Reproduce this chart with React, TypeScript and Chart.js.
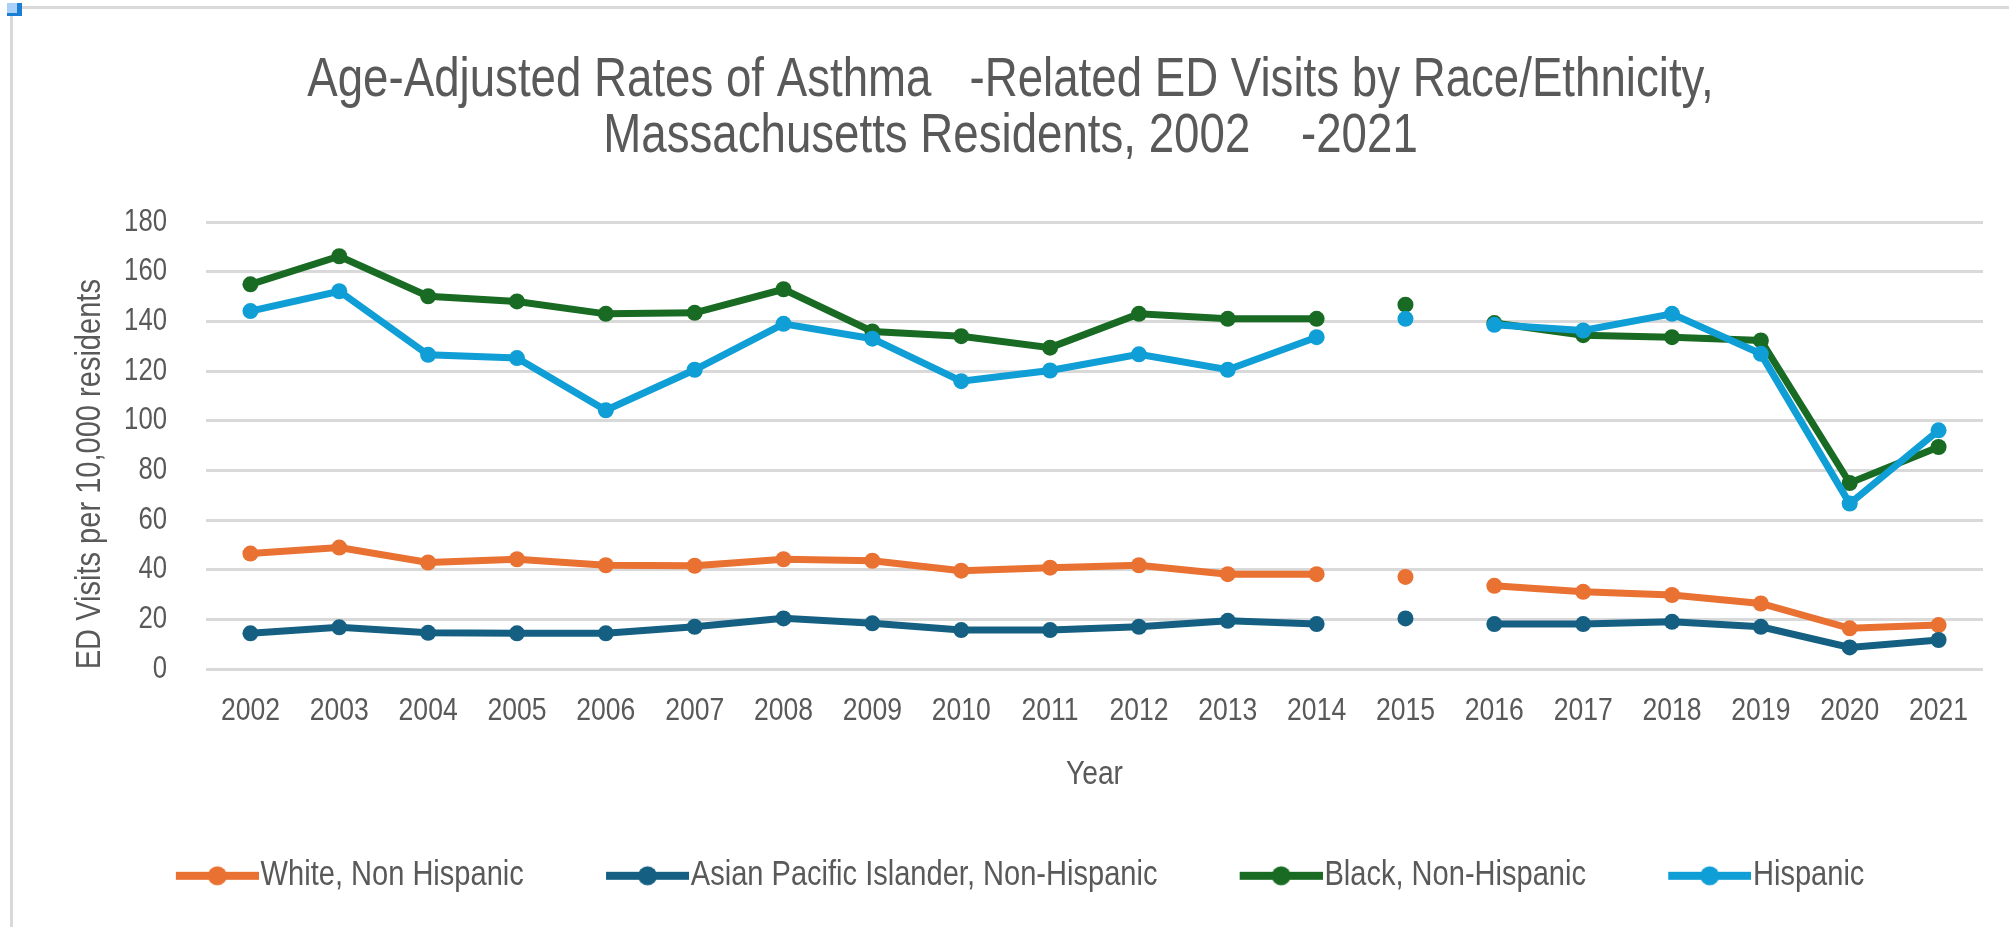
import React, { useEffect, useRef } from "react";
import { Chart, registerables } from "chart.js";

Chart.register(...registerables);

const years = ["2002","2003","2004","2005","2006","2007","2008","2009","2010","2011","2012","2013","2014","2015","2016","2017","2018","2019","2020","2021"];
const isolatedYears = ["2015"];

const whiteNH = [46.6, 49.0, 43.0, 44.3, 41.9, 41.7, 44.3, 43.7, 39.7, 40.9, 41.9, 38.3, 38.3, 37.2, 33.6, 31.2, 29.9, 26.5, 16.5, 17.8];
const asianNH = [14.5, 16.9, 14.7, 14.5, 14.5, 17.1, 20.5, 18.5, 15.8, 15.8, 17.1, 19.5, 18.2, 20.5, 18.2, 18.2, 19.1, 17.1, 8.8, 11.8];
const blackNH = [155.0, 166.3, 150.2, 148.1, 143.1, 143.5, 153.0, 136.0, 134.1, 129.5, 143.1, 141.1, 141.1, 146.8, 139.4, 134.5, 133.7, 132.4, 75.0, 89.5];
const hispanic = [144.2, 152.2, 126.6, 125.3, 104.3, 120.6, 139.1, 133.1, 116.0, 120.3, 126.8, 120.6, 133.7, 141.1, 138.7, 136.4, 143.1, 127.0, 66.7, 96.2];

const seriesNames = ["White, Non Hispanic", "Asian Pacific Islander, Non-Hispanic", "Black, Non-Hispanic", "Hispanic"];
const seriesColors = ["#E97132", "#156082", "#196B24", "#0F9ED5"];
const seriesValues = [whiteNH, asianNH, blackNH, hispanic];
const drawOrder = [4, 3, 2, 1];

const titleLines = ["Age-Adjusted Rates of Asthma   -Related ED Visits by Race/Ethnicity,", "Massachusetts Residents, 2002    -2021"];
const yTitle = "ED Visits per 10,000 residents";
const xTitle = "Year";

const FONT = "'Liberation Sans', Arial, sans-serif";
const TEXT = "#595959";
const GRID = "#d9d9d9";
const TEXT_SCALE_X = 0.83;

function legendMarker(color: string): HTMLCanvasElement {
  const c = document.createElement("canvas");
  c.width = 118;
  c.height = 22;
  const ctx = c.getContext("2d")!;
  ctx.strokeStyle = color;
  ctx.lineWidth = 8;
  ctx.beginPath();
  ctx.moveTo(35, 11);
  ctx.lineTo(118, 11);
  ctx.stroke();
  ctx.fillStyle = color;
  ctx.beginPath();
  ctx.arc(76.5, 11, 9.5, 0, Math.PI * 2);
  ctx.fill();
  return c;
}

function condenseText(ctx: any) {
  const origFill = ctx.fillText.bind(ctx);
  const origMeasure = ctx.measureText.bind(ctx);
  ctx.measureText = (t: string) => {
    const m = origMeasure(t);
    return {
      width: m.width * TEXT_SCALE_X,
      actualBoundingBoxAscent: m.actualBoundingBoxAscent,
      actualBoundingBoxDescent: m.actualBoundingBoxDescent,
      actualBoundingBoxLeft: m.actualBoundingBoxLeft * TEXT_SCALE_X,
      actualBoundingBoxRight: m.actualBoundingBoxRight * TEXT_SCALE_X,
      fontBoundingBoxAscent: m.fontBoundingBoxAscent,
      fontBoundingBoxDescent: m.fontBoundingBoxDescent,
    };
  };
  ctx.fillText = (t: string, x: number, y: number, maxWidth?: number) => {
    ctx.save();
    ctx.translate(x, y);
    ctx.scale(TEXT_SCALE_X, 1);
    if (maxWidth !== undefined) origFill(t, 0, 0, maxWidth / TEXT_SCALE_X);
    else origFill(t, 0, 0);
    ctx.restore();
  };
}

export default function App() {
  const ref = useRef<HTMLCanvasElement | null>(null);

  useEffect(() => {
    if (!ref.current) return;
    const context = ref.current.getContext("2d");
    condenseText(context);
    const markers = seriesColors.map(legendMarker);
    const hidden = (ctx: any) => {
      const a = years[ctx.p0DataIndex];
      const b = years[ctx.p1DataIndex];
      return isolatedYears.includes(a) || isolatedYears.includes(b) ? "rgba(0,0,0,0)" : undefined;
    };
    const chart = new Chart(ref.current, {
      type: "line",
      data: {
        labels: years,
        datasets: seriesNames.map((name, i) => ({
          label: name,
          data: seriesValues[i],
          borderColor: seriesColors[i],
          backgroundColor: seriesColors[i],
          pointBackgroundColor: seriesColors[i],
          pointBorderColor: seriesColors[i],
          pointBorderWidth: 0,
          pointRadius: 8,
          borderWidth: 7,
          tension: 0,
          fill: false,
          order: drawOrder[i],
          segment: { borderColor: hidden },
        })),
      },
      options: {
        responsive: false,
        animation: false,
        devicePixelRatio: 1,
        layout: { padding: { left: 38, right: 26, top: 0, bottom: 23.7 } },
        scales: {
          x: {
            type: "category",
            offset: true,
            grid: { display: false, drawTicks: false },
            border: { display: false },
            ticks: {
              color: TEXT,
              font: { family: FONT, size: 32 },
              padding: 23,
              maxRotation: 0,
              autoSkip: false,
            },
            title: {
              display: true,
              text: xTitle,
              color: TEXT,
              font: { family: FONT, size: 34 },
              padding: { top: 0, bottom: 0 },
            },
            afterFit: (scale: any) => {
              scale.height = 126;
            },
          },
          y: {
            min: 0,
            max: 180,
            grid: { color: GRID, lineWidth: 3, drawTicks: false },
            border: { display: false },
            ticks: {
              stepSize: 20,
              autoSkip: false,
              color: TEXT,
              font: { family: FONT, size: 31 },
              padding: 39,
            },
            title: {
              display: true,
              text: yTitle,
              align: "start",
              color: TEXT,
              font: { family: FONT, size: 35 },
              padding: { top: 31, bottom: 0 },
            },
            afterFit: (scale: any) => {
              scale.width = 168;
            },
          },
        },
        plugins: {
          tooltip: { enabled: false },
          title: {
            display: true,
            text: titleLines,
            color: TEXT,
            font: { family: FONT, size: 55, weight: "normal", lineHeight: 1.02 },
            padding: { top: 53, bottom: 57 },
          },
          legend: {
            display: true,
            position: "bottom",
            align: "center",
            labels: {
              usePointStyle: true,
              pointStyleWidth: 86.5,
              padding: 63,
              color: TEXT,
              font: { family: FONT, size: 35 },
              generateLabels: (ch: any) =>
                ch.data.datasets.map((ds: any, i: number) => ({
                  text: ds.label,
                  fillStyle: seriesColors[i],
                  strokeStyle: seriesColors[i],
                  lineWidth: 0,
                  pointStyle: markers[i],
                  fontColor: TEXT,
                  hidden: false,
                  datasetIndex: i,
                })),
            },
          },
        },
      },
    } as any);
    return () => chart.destroy();
  }, []);

  return (
    <div style={{ position: "absolute", left: 0, top: 0, width: 2009, height: 927, background: "#fff", overflow: "hidden" }}>
      <div style={{ position: "absolute", left: 10, top: 6, width: 2009, height: 1000, borderTop: "3px solid #d9d9d9", borderLeft: "3px solid #d9d9d9" }} />
      <div style={{ position: "absolute", left: 7, top: 3, width: 10, height: 10, background: "#a8d0f8", borderRight: "5px solid #1a7fd4", borderBottom: "3px solid #1a7fd4" }} />
      <canvas ref={ref} width={2009} height={927} style={{ position: "absolute", left: 0, top: 0, width: 2009, height: 927 }} />
    </div>
  );
}
